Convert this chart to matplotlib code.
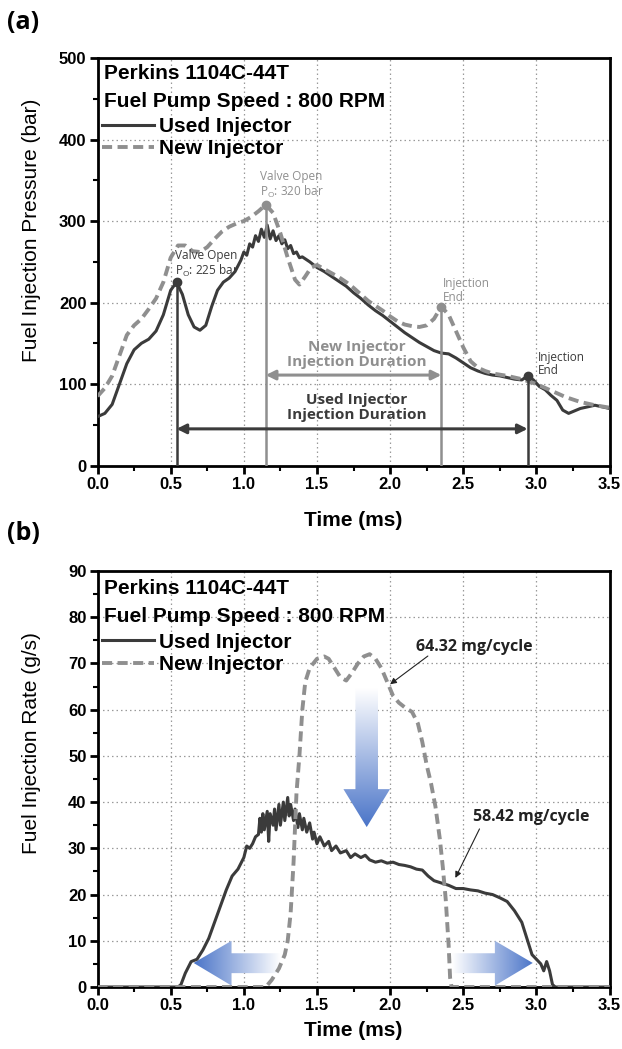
import numpy as np
import matplotlib.pyplot as plt
from matplotlib.lines import Line2D
from matplotlib.patches import Polygon
from matplotlib.colors import LinearSegmentedColormap

plt.rcParams['font.family'] = 'Liberation Sans'
plt.rcParams['mathtext.fontset'] = 'custom'
plt.rcParams['mathtext.rm'] = 'Open Sans'
plt.rcParams['mathtext.it'] = 'Open Sans'

# (a) fuel injection pressure (bar) vs time (ms)
used_p_t = [0.00, 0.05, 0.10, 0.15, 0.20, 0.25, 0.30, 0.35, 0.40, 0.45, 0.50, 0.54,
            0.58, 0.62, 0.66, 0.70, 0.74, 0.78, 0.82, 0.86, 0.90, 0.94, 0.98, 1.00,
            1.02, 1.04, 1.06, 1.08, 1.10, 1.12, 1.14, 1.16, 1.18, 1.20, 1.22, 1.24,
            1.26, 1.28, 1.30, 1.32, 1.34, 1.36, 1.38, 1.40, 1.45, 1.50, 1.55, 1.60,
            1.65, 1.70, 1.75, 1.80, 1.85, 1.90, 1.95, 2.00, 2.05, 2.10, 2.15, 2.20,
            2.25, 2.30, 2.35, 2.40, 2.45, 2.50, 2.55, 2.60, 2.65, 2.70, 2.75, 2.80,
            2.85, 2.90, 2.94, 2.98, 3.02, 3.06, 3.10, 3.14, 3.18, 3.22, 3.26, 3.30,
            3.35, 3.40, 3.45, 3.50]
used_p = [60, 64, 75, 100, 125, 142, 150, 155, 165, 185, 215, 225,
          210, 185, 170, 166, 172, 195, 215, 225, 230, 238, 252, 262,
          258, 272, 268, 282, 275, 290, 280, 295, 278, 288, 276, 282,
          272, 277, 266, 270, 260, 262, 255, 256, 250, 243, 238, 232,
          226, 220, 212, 205, 197, 190, 184, 177, 170, 163, 157, 151,
          146, 141, 138, 137, 132, 126, 120, 116, 113, 111, 110, 108,
          106, 105, 110, 105, 97, 93, 86, 80, 68, 64, 67, 70,
          72, 74, 72, 70]

new_p_t = [0.00, 0.05, 0.10, 0.15, 0.20, 0.25, 0.30, 0.35, 0.40, 0.45, 0.50, 0.55,
           0.60, 0.65, 0.70, 0.75, 0.80, 0.85, 0.90, 0.95, 1.00, 1.05, 1.10, 1.15,
           1.20, 1.25, 1.30, 1.35, 1.38, 1.42, 1.46, 1.50, 1.55, 1.60, 1.65, 1.70,
           1.75, 1.80, 1.85, 1.90, 1.95, 2.00, 2.05, 2.10, 2.15, 2.20, 2.25, 2.30,
           2.35, 2.40, 2.45, 2.50, 2.55, 2.60, 2.65, 2.70, 2.80, 2.90, 3.00, 3.10,
           3.20, 3.30, 3.40, 3.50]
new_p = [85, 95, 110, 135, 160, 172, 180, 192, 205, 225, 255, 270,
         270, 263, 262, 268, 278, 287, 293, 297, 300, 305, 312, 320,
         310, 285, 255, 228, 222, 232, 243, 246, 241, 236, 231, 225,
         218, 210, 202, 196, 190, 183, 177, 173, 171, 170, 172, 180,
         195, 185, 165, 145, 128, 120, 116, 113, 110, 106, 100, 92,
         84, 78, 74, 71]

# (b) fuel injection rate (g/s) vs time (ms)
used_r_t = [0.00, 0.55, 0.57, 0.60, 0.64, 0.68, 0.72, 0.76, 0.80, 0.84, 0.88, 0.92,
            0.96, 1.00, 1.02, 1.04, 1.06, 1.08, 1.10, 1.11, 1.12, 1.13, 1.14, 1.16,
            1.17, 1.18, 1.20, 1.21, 1.22, 1.24, 1.25, 1.27, 1.28, 1.30, 1.31, 1.32,
            1.34, 1.35, 1.37, 1.38, 1.40, 1.41, 1.43, 1.45, 1.47, 1.48, 1.50, 1.52,
            1.55, 1.58, 1.60, 1.63, 1.66, 1.70, 1.73, 1.76, 1.80, 1.83, 1.86, 1.90,
            1.94, 1.98, 2.02, 2.06, 2.10, 2.14, 2.18, 2.22, 2.26, 2.30, 2.35, 2.40,
            2.45, 2.50, 2.55, 2.60, 2.65, 2.70, 2.75, 2.80, 2.85, 2.90, 2.94, 2.97,
            3.00, 3.03, 3.05, 3.07, 3.09, 3.11, 3.13, 3.50]
used_r = [0, 0, 0.5, 3, 5.5, 6, 8, 10.5, 14, 17.5, 21, 24,
          25.5, 28, 30.5, 30, 31, 32.5, 33, 36.5, 33.5, 37.5, 34, 38,
          31.5, 37.5, 35, 38.5, 34, 39.5, 35, 40, 36, 41, 37, 39.5,
          36, 38.5, 34.5, 37.5, 34, 36.5, 33.5, 35.5, 32, 33.5, 31, 32.5,
          30.5, 31.5, 29.5, 30.5, 29, 29.5, 28, 28.8, 28, 28.5, 27.5, 27,
          27.3, 26.8, 27, 26.5, 26.3, 26, 25.5, 25.3, 24, 23, 22.5, 22,
          21.3, 21.3, 21, 20.8, 20.3, 20, 19.3, 18.5, 16.5, 14, 10, 7,
          6, 5, 3.5, 5.5, 3.5, 0.5, 0, 0]

new_r_t = [0.00, 1.15, 1.19, 1.24, 1.28, 1.30, 1.32, 1.34, 1.36, 1.38, 1.40, 1.42,
           1.45, 1.50, 1.55, 1.58, 1.62, 1.66, 1.70, 1.74, 1.78, 1.82, 1.86, 1.90,
           1.94, 1.98, 2.02, 2.06, 2.10, 2.15, 2.19, 2.22, 2.25, 2.28, 2.31, 2.34,
           2.36, 2.38, 2.40, 2.41, 2.42, 3.50]
new_r = [0, 0, 1.5, 4, 7, 10, 16, 27, 42, 50, 60, 66,
         69, 71, 71.5, 71, 69, 67, 66.3, 68, 70, 71.5, 72, 71,
         69, 66, 63, 61.5, 60.5, 59.5, 57, 53, 48, 44, 39, 32,
         26, 19, 9, 2, 0, 0]

# events read from (a): (time ms, pressure bar)
used_open = (0.54, 225)
new_open = (1.15, 320)
new_end = (2.35, 195)
used_end = (2.94, 110)

USED = '#3b3b3b'
NEW = '#8f8f8f'
BLUE = '#4a74c8'
ANNO = 'Open Sans'
xticks = [0.0, 0.5, 1.0, 1.5, 2.0, 2.5, 3.0, 3.5]

fig = plt.figure(figsize=(6.22, 10.49), dpi=100)
ax1 = fig.add_axes([0.1568, 0.5562, 0.8232, 0.3885])
ax2 = fig.add_axes([0.1568, 0.0591, 0.8232, 0.3966])


def style_axes(ax, ymax, ystep, xlab_y):
    ax.set_xlim(0, 3.5)
    ax.set_ylim(0, ymax)
    ax.set_xticks(xticks, labels=['%.1f' % v for v in xticks], fontweight='bold')
    ax.set_xticks(np.arange(0, 3.51, 0.25), minor=True)
    yt = list(range(0, ymax + 1, ystep))
    ax.set_yticks(yt, labels=[str(v) for v in yt], fontweight='bold')
    ax.set_yticks(np.arange(0, ymax + 0.1, ystep / 2), minor=True)
    ax.grid(True, which='major', color='#9a9a9a', ls=(0, (1.2, 2.4)), lw=0.9)
    ax.set_axisbelow(True)
    ax.tick_params(which='major', direction='out', length=6, width=2, labelsize=12, pad=2)
    ax.tick_params(which='minor', direction='out', length=3.5, width=1.5)
    for s in ax.spines.values():
        s.set_linewidth(2)
    ax.set_xlabel('Time (ms)', fontsize=15, fontweight='bold')
    ax.xaxis.set_label_coords(0.5, xlab_y)


def header(ax, y1, y2, yleg):
    ax.text(0.0127, y1, 'Perkins 1104C-44T', transform=ax.transAxes,
            fontsize=15, fontweight='bold', va='center')
    ax.text(0.0127, y2, 'Fuel Pump Speed : 800 RPM', transform=ax.transAxes,
            fontsize=15, fontweight='bold', va='center')
    handles = [Line2D([], [], color=USED, lw=2.2),
               Line2D([], [], color=NEW, lw=2.8, dashes=(2.6, 1.4))]
    ax.legend(handles, ['Used Injector', 'New Injector'], loc='upper left',
              bbox_to_anchor=(0.0096, yleg), frameon=False,
              prop={'size': 15, 'weight': 'bold'}, handlelength=2.48,
              handletextpad=0.24, labelspacing=0.16, borderpad=0, borderaxespad=0)


fade = LinearSegmentedColormap.from_list('fade', ['#ffffff', BLUE])


def fade_arrow(ax, verts, blue_end):
    xs = [v[0] for v in verts]
    ys = [v[1] for v in verts]
    g = np.linspace(0, 1, 256)
    if blue_end == 'left':
        img = g[::-1][None, :]
    elif blue_end == 'right':
        img = g[None, :]
    else:
        img = g[::-1][:, None]
    poly = Polygon(verts, closed=True, fc='none', ec='none')
    ax.add_patch(poly)
    im = ax.imshow(img, cmap=fade, vmin=0, vmax=1, origin='lower', aspect='auto',
                   extent=(min(xs), max(xs), min(ys), max(ys)), zorder=2.5,
                   interpolation='bilinear')
    im.set_clip_path(poly)


# ---------------- (a) ----------------
ax1.plot(used_p_t, used_p, color=USED, lw=2.2, zorder=3)
ax1.plot(new_p_t, new_p, color=NEW, lw=2.8, dashes=(2.6, 1.4), zorder=3)

for (tx, py), c in [(used_open, USED), (used_end, USED), (new_open, NEW), (new_end, NEW)]:
    ax1.plot([tx, tx], [0, py], color=c, lw=1.8, zorder=4)
    ax1.plot(tx, py, 'o', color=c, ms=6, zorder=5)

ax1.text(0.53, 247, 'Valve Open\nP$_\\mathrm{O}$: 225 bar', fontsize=8.5,
         family=ANNO, color=USED, va='center', linespacing=1.05)
ax1.text(1.11, 344, 'Valve Open\nP$_\\mathrm{O}$: 320 bar', fontsize=8.5,
         family=ANNO, color=NEW, va='center', linespacing=1.05)
ax1.text(2.36, 215, 'Injection\nEnd', fontsize=8.5, family=ANNO,
         color=NEW, va='center', linespacing=1.05)
ax1.text(3.013, 124.5, 'Injection\nEnd', fontsize=8.5, family=ANNO,
         color=USED, va='center', linespacing=1.05)

ax1.annotate('', xy=(new_end[0], 111), xytext=(new_open[0], 111),
             arrowprops=dict(arrowstyle='<|-|>', color=NEW, lw=2.2,
                             mutation_scale=14, shrinkA=0, shrinkB=0), zorder=4)
ax1.annotate('', xy=(used_end[0], 45), xytext=(used_open[0], 45),
             arrowprops=dict(arrowstyle='<|-|>', color=USED, lw=2.2,
                             mutation_scale=14, shrinkA=0, shrinkB=0), zorder=4)
ax1.text(1.772, 136, 'New Injector\nInjection Duration', fontsize=11,
         family=ANNO, fontweight='bold', color=NEW, ha='center',
         va='center', linespacing=1.1)
ax1.text(1.772, 71.5, 'Used Injector\nInjection Duration', fontsize=11,
         family=ANNO, fontweight='bold', color=USED, ha='center',
         va='center', linespacing=1.1)

style_axes(ax1, 500, 100, -0.112)
ax1.set_ylabel('Fuel Injection Pressure (bar)', fontsize=15)
ax1.yaxis.set_label_coords(-0.110, 0.578)
header(ax1, 0.961, 0.893, 0.855)

# ---------------- (b) ----------------
ax2.plot(used_r_t, used_r, color=USED, lw=2.2, zorder=3)
ax2.plot(new_r_t, new_r, color=NEW, lw=2.8, dashes=(2.6, 1.4), zorder=3)

fade_arrow(ax2, [(1.763, 64.6), (1.917, 64.6), (1.917, 42.8), (1.999, 42.8),
                 (1.84, 34.6), (1.681, 42.8), (1.763, 42.8)], 'bottom')
fade_arrow(ax2, [(0.657, 5.2), (0.916, 10.0), (0.916, 7.3), (1.245, 7.3),
                 (1.245, 3.0), (0.916, 3.0), (0.916, 0.3)], 'left')
fade_arrow(ax2, [(2.42, 7.3), (2.716, 7.3), (2.716, 10.0), (2.975, 5.2),
                 (2.716, 0.3), (2.716, 3.0), (2.42, 3.0)], 'right')

ax2.text(2.175, 73.5, '64.32 mg/cycle', fontsize=11.5, family=ANNO,
         fontweight='bold', va='center', color='#222222')
ax2.annotate('', xy=(2.0, 65.5), xytext=(2.258, 71.6),
             arrowprops=dict(arrowstyle='-|>', color='#222222', lw=0.8,
                             mutation_scale=9, shrinkA=0, shrinkB=0))
ax2.text(2.564, 36.8, '58.42 mg/cycle', fontsize=11.5, family=ANNO,
         fontweight='bold', va='center', color='#222222')
ax2.annotate('', xy=(2.446, 23.6), xytext=(2.611, 34.2),
             arrowprops=dict(arrowstyle='-|>', color='#222222', lw=0.8,
                             mutation_scale=9, shrinkA=0, shrinkB=0))

style_axes(ax2, 90, 10, -0.082)
ax2.set_ylabel('Fuel Injection Rate (g/s)', fontsize=15)
ax2.yaxis.set_label_coords(-0.110, 0.587)
header(ax2, 0.957, 0.891, 0.852)

fig.text(0.011, 0.990, '(a)', fontsize=18, fontweight='bold', family=ANNO, va='top')
fig.text(0.011, 0.503, '(b)', fontsize=18, fontweight='bold', family=ANNO, va='top')

fig.savefig('out.png', dpi=100)
